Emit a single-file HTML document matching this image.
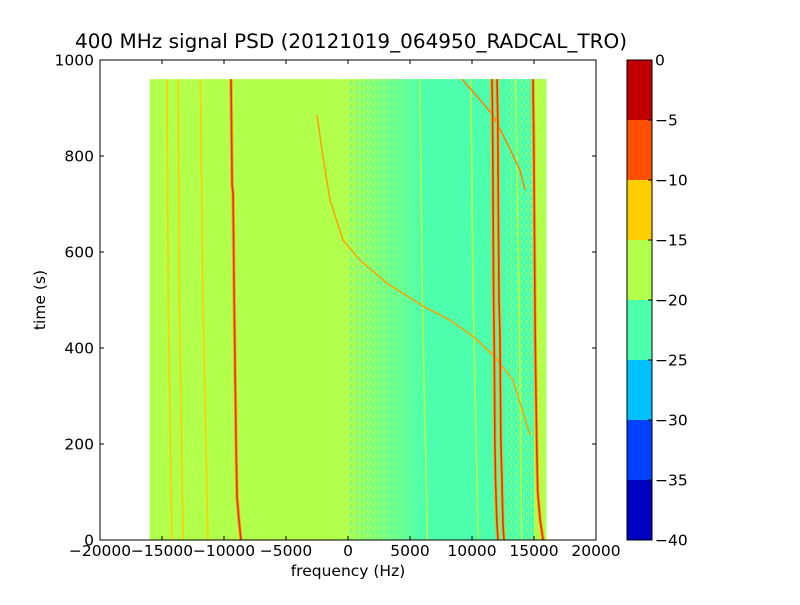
<!DOCTYPE html>
<html><head><meta charset="utf-8"><style>
body{margin:0;background:#fff;}
svg text{font-family:"DejaVu Sans","Liberation Sans",sans-serif;}
</style></head><body>
<svg id="c" width="800" height="600" xmlns="http://www.w3.org/2000/svg">
<rect width="800" height="600" fill="#fff"/>
<defs>
<pattern id="noise" x="0" y="0" width="5" height="8" patternUnits="userSpaceOnUse">
<rect width="5" height="8" fill="#b2ff4c"/>
<rect x="1" y="1" width="1" height="4" fill="#4dffad"/>
<rect x="3" y="4" width="1" height="3" fill="#7dffa0"/>
</pattern>
<pattern id="noise2" x="0" y="0" width="5" height="8" patternUnits="userSpaceOnUse">
<rect width="5" height="8" fill="#4dffad"/>
<rect x="1" y="0" width="1" height="4" fill="#b2ff4c"/>
<rect x="3" y="5" width="1" height="2" fill="#9fff70"/>
</pattern>
<linearGradient id="fade" x1="0" x2="1" y1="0" y2="0">
<stop offset="0" stop-color="#4dffad" stop-opacity="0"/>
<stop offset="1" stop-color="#4dffad" stop-opacity="1"/>
</linearGradient>
</defs>
<g id="plot"></g>
<text x="351" y="48" font-size="19.5" text-anchor="middle" textLength="552" lengthAdjust="spacingAndGlyphs">400 MHz signal PSD (20121019_064950_RADCAL_TRO)</text>
<text x="348" y="576" font-size="15.5" text-anchor="middle">frequency (Hz)</text>
<text transform="translate(45,300) rotate(-90)" font-size="15.5" text-anchor="middle">time (s)</text>
<g id="cbar"></g>
</svg>
<script>
const xTicks=[-20000,-15000,-10000,-5000,0,5000,10000,15000,20000];
const yTicks=[0,200,400,600,800,1000];
const cbLevels=[0,-5,-10,-15,-20,-25,-30,-35,-40];
const cbColors=["#c00000","#ff5000","#ffd000","#b2ff4c","#4dffad","#00c0ff","#0040ff","#0000c0"];
const fMin=-16000,fMax=16000,tMax=960;
// line traces: freq (Hz) vs time (s)
const redA_f=[-9435,-9350,-9270,-9200,-9110,-9030,-8950,-8790,-8630];
const redA_t=[960,740,720,550,370,210,90,40,0];
const redB_f=[11610,11660,11700,11740,11800,11850,11900,12000,12100];
const redB_t=[960,880,700,500,400,200,120,40,0];
const redC_f=[12020,12080,12120,12180,12260,12320,12420,12500,12580];
const redC_t=[960,870,700,500,420,210,120,30,0];
const redD_f=[14920,14990,15050,15100,15160,15220,15300,15500,15730];
const redD_t=[960,800,600,420,300,200,100,40,0];
const yel_f=[[-14600,-14500,-14200],[-13700,-13600,-13300],[-11900,-11700,-11300],[5800,6000,6400],[9900,10100,10500],[13500,13800,14000]];
const yel_t=[[960,500,0],[960,500,0],[960,500,0],[960,500,0],[960,500,0],[960,500,0]];
const chirp1_f=[-2500,-2097,-1452,-403,968,3145,6210,8226,10242,11855,13306,14677];
const chirp1_t=[885,812,708,625,583,535,485,458,421,381,333,219];
const chirp2_f=[9194,10645,11694,12823,13871,14270];
const chirp2_t=[960,917,885,827,771,729];

const NS="http://www.w3.org/2000/svg";
const X0=100,X1=596,Y0=60,Y1=540;
const xs=f=>X0+(f+20000)/40000*(X1-X0);
const ys=t=>Y1-t/1000*(Y1-Y0);
function mk(tag,attrs,parent){const e=document.createElementNS(NS,tag);for(const k in attrs)e.setAttribute(k,attrs[k]);parent.appendChild(e);return e;}
const P=document.getElementById('plot');
const topY=ys(tMax),hh=ys(0)-ys(tMax);
let r=mk('rect',{x:xs(fMin),y:topY,width:xs(fMax)-xs(fMin),height:hh,fill:"#b2ff4c"},P);


r=mk('rect',{x:xs(0),y:topY,width:xs(4000)-xs(0),height:hh,fill:"url(#noise)"},P);


r=mk('rect',{x:xs(0),y:topY,width:xs(6000)-xs(0),height:hh,fill:"url(#fade)"},P);


r=mk('rect',{x:xs(6000),y:topY,width:xs(fMax)-xs(6000),height:hh,fill:"#4dffad"},P);


r=mk('rect',{x:xs(12800),y:topY,width:xs(14900)-xs(12800),height:hh,fill:"url(#noise2)",opacity:0.8},P);


r=mk('rect',{x:xs(15000),y:topY,width:xs(fMax)-xs(15000),height:hh,fill:"#b2ff4c"},P);


function line(fa,ta,color,w,name){const pts=fa.map((f,i)=>xs(f).toFixed(1)+","+ys(ta[i]).toFixed(1)).join(" ");
 const e=mk('polyline',{points:pts,fill:"none",stroke:color,"stroke-width":w,"stroke-linejoin":"round"},P);
 
 }
yel_f.forEach((fa,i)=>line(fa,yel_t[i],i>=3?"#b2ff4c":"#ffd000",1.6,"weak-carrier-"+i));
line(chirp1_f,chirp1_t,"#ffa000",1.5,"chirp-trace");
line(chirp2_f,chirp2_t,"#ff8000",1.5,"chirp-trace-upper");
[[redA_f,redA_t],[redB_f,redB_t],[redC_f,redC_t],[redD_f,redD_t]].forEach((d,i)=>{
 line(d[0],d[1],"#ffb000",3.5,"carrier-halo-"+i);line(d[0],d[1],"#e03020",1.6,"carrier-"+i);});
r=mk('rect',{x:X0,y:Y0,width:X1-X0,height:Y1-Y0,fill:"none",stroke:"#000","stroke-width":1},P);


xTicks.forEach(v=>{const x=xs(v);
 mk('line',{x1:x,x2:x,y1:Y1,y2:Y1-4,stroke:"#000"},P);mk('line',{x1:x,x2:x,y1:Y0,y2:Y0+4,stroke:"#000"},P);
 const t=mk('text',{x:x,y:Y1+16,"font-size":15.5,"text-anchor":"middle"},P);t.textContent=v<0?"\u2212"+(-v):v;
 
 });
yTicks.forEach(v=>{const y=ys(v);
 mk('line',{x1:X0,x2:X0+4,y1:y,y2:y,stroke:"#000"},P);mk('line',{x1:X1,x2:X1-4,y1:y,y2:y,stroke:"#000"},P);
 const t=mk('text',{x:X0-6,y:y+5.5,"font-size":15.5,"text-anchor":"end"},P);t.textContent=v;
 
 });
const C=document.getElementById('cbar');const CX=627,CW=25;
const cy=v=>60+(0-v)/40*480;
cbColors.forEach((c,i)=>{const e=mk('rect',{x:CX,y:cy(cbLevels[i]),width:CW,height:cy(cbLevels[i+1])-cy(cbLevels[i]),fill:c},C);
 
 });
r=mk('rect',{x:CX,y:60,width:CW,height:480,fill:"none",stroke:"#000"},C);


cbLevels.forEach(v=>{const y=cy(v);mk('line',{x1:CX+CW-4,x2:CX+CW,y1:y,y2:y,stroke:"#000"},C);
 const t=mk('text',{x:CX+CW+3,y:y+5.5,"font-size":15.5},C);t.textContent=v<0?"\u2212"+(-v):v;
 
 });
</script>
</body></html>
